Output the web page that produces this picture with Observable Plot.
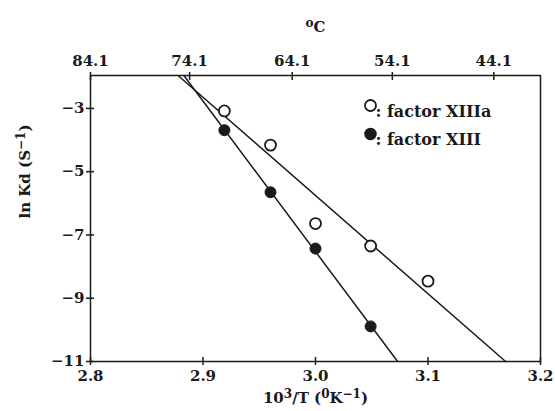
<!DOCTYPE html>
<html><head><meta charset="utf-8">
<script src="https://cdn.jsdelivr.net/npm/d3@7"></script>
<script src="https://cdn.jsdelivr.net/npm/@observablehq/plot@0.6"></script>
<style>body{margin:0;background:#fff}</style>
</head><body><div id="chart"></div>
<script>
// factor XIIIa (open circles)
const xiiiaX = [2.919, 2.960, 3.000, 3.049, 3.100];
const xiiiaY = [-3.08, -4.16, -6.64, -7.35, -8.46];
// factor XIII (filled circles)
const xiiiX = [2.919, 2.960, 3.000, 3.049];
const xiiiY = [-3.69, -5.65, -7.43, -9.89];
// fitted lines (end points)
const fitXIIIaX = [2.8778, 3.169];
const fitXIIIaY = [-1.96, -11];
const fitXIIIX = [2.883, 3.073];
const fitXIIIY = [-1.96, -11];
// axes
const bottomTicks = [2.8, 2.9, 3.0, 3.1, 3.2];
const leftTicks = [-3, -5, -7, -9, -11];
const topTickX = [2.8, 2.8881, 2.9793, 3.0683, 3.1585];
const topTickLabels = ["84.1", "74.1", "64.1", "54.1", "44.1"];
const legendLabels = [": factor XIIIa", ": factor XIII"];
// titles: [text, superscript?]
const xTitleParts = [["10", false], ["3", true], ["/T (", false], ["0", true], ["K", false], ["\u22121", true], [")", false]];
const yTitleParts = [["ln Kd (S", false], ["\u22121", true], [")", false]];
const topTitleParts = [["o", true], ["C", false]];

const ink = "#1a1a1a";
const joinParts = parts => parts.map(p => p[0]).join("");
const xTitle = joinParts(xTitleParts), yTitle = joinParts(yTitleParts), topTitle = joinParts(topTitleParts);
const topMap = new Map(topTickX.map((d, i) => [d, topTickLabels[i]]));
const pts = (xs, ys) => xs.map((x, i) => ({x, y: ys[i]}));

const chart = Plot.plot({
  width: 555,
  height: 411,
  marginLeft: 90,
  marginRight: 15,
  marginTop: 75,
  marginBottom: 50,
  style: {fontFamily: "'DejaVu Serif', serif", fontWeight: "bold", fontSize: "15px", color: ink, background: "#fff"},
  x: {domain: [2.8, 3.2], axis: null},
  y: {domain: [-11, -1.96], axis: null},
  marks: [
    Plot.frame({stroke: ink, strokeWidth: 1.5}),
    // bottom axis
    Plot.axisX(bottomTicks, {anchor: "bottom", tickSize: 8, dy: -4, fill: "none", stroke: ink, strokeWidth: 1.5}),
    Plot.axisX(bottomTicks, {anchor: "bottom", tickSize: 0, tickPadding: 9, tickFormat: d => d.toFixed(1), label: null, fill: ink}),
    // top axis
    Plot.axisX(topTickX, {anchor: "top", tickSize: 8, dy: 4, fill: "none", stroke: ink, strokeWidth: 1.5}),
    Plot.axisX(topTickX, {anchor: "top", tickSize: 0, tickPadding: 10, tickFormat: d => topMap.get(d), label: null, fill: ink}),
    // left axis
    Plot.axisY(leftTicks, {anchor: "left", tickSize: 8, dx: 4, fill: "none", stroke: ink, strokeWidth: 1.5}),
    Plot.axisY(leftTicks, {anchor: "left", tickSize: 0, tickPadding: 6, tickFormat: d => (d < 0 ? "\u2212" : "") + Math.abs(d), label: null, fill: ink}),
    // titles
    Plot.text([xTitle], {text: d => d, frameAnchor: "bottom", dy: 41, fill: ink}),
    Plot.text([yTitle], {text: d => d, frameAnchor: "left", dx: -65, rotate: -90, fill: ink}),
    Plot.text([topTitle], {text: d => d, frameAnchor: "top", dy: -54, fill: ink}),
    // fitted lines
    Plot.line(pts(fitXIIIaX, fitXIIIaY), {x: "x", y: "y", stroke: ink, strokeWidth: 1.5}),
    Plot.line(pts(fitXIIIX, fitXIIIY), {x: "x", y: "y", stroke: ink, strokeWidth: 1.5}),
    // points
    Plot.dot(pts(xiiiaX, xiiiaY), {x: "x", y: "y", r: 5.5, fill: "white", stroke: ink, strokeWidth: 1.8}),
    Plot.dot(pts(xiiiX, xiiiY), {x: "x", y: "y", r: 5.5, fill: ink, stroke: ink, strokeWidth: 1}),
    // legend
    Plot.dot([0], {frameAnchor: "top-right", dx: -170, dy: 30, r: 5.5, fill: "white", stroke: ink, strokeWidth: 1.8}),
    Plot.text([legendLabels[0]], {text: d => d, frameAnchor: "top-right", dx: -165, dy: 30, textAnchor: "start", fill: ink, fontSize: 16}),
    Plot.dot([0], {frameAnchor: "top-right", dx: -170, dy: 58.5, r: 5.5, fill: ink, stroke: ink}),
    Plot.text([legendLabels[1]], {text: d => d, frameAnchor: "top-right", dx: -165, dy: 58.5, textAnchor: "start", fill: ink, fontSize: 16})
  ]
});

// render superscripts as real raised text
const svgns = "http://www.w3.org/2000/svg";
function richText(node, parts) {
  node.textContent = "";
  let shift = 0;
  for (const [s, sup] of parts) {
    const t = document.createElementNS(svgns, "tspan");
    t.textContent = s;
    const target = sup ? -5 : 0;
    if (target !== shift) t.setAttribute("dy", target - shift);
    shift = target;
    if (sup) t.setAttribute("font-size", "12px");
    node.append(t);
  }
}
const titleMap = new Map([[xTitle, xTitleParts], [yTitle, yTitleParts], [topTitle, topTitleParts]]);
chart.querySelectorAll("text").forEach(node => {
  const parts = titleMap.get(node.textContent);
  if (parts) richText(node, parts);
});
document.getElementById("chart").append(chart);
</script>
</body></html>
